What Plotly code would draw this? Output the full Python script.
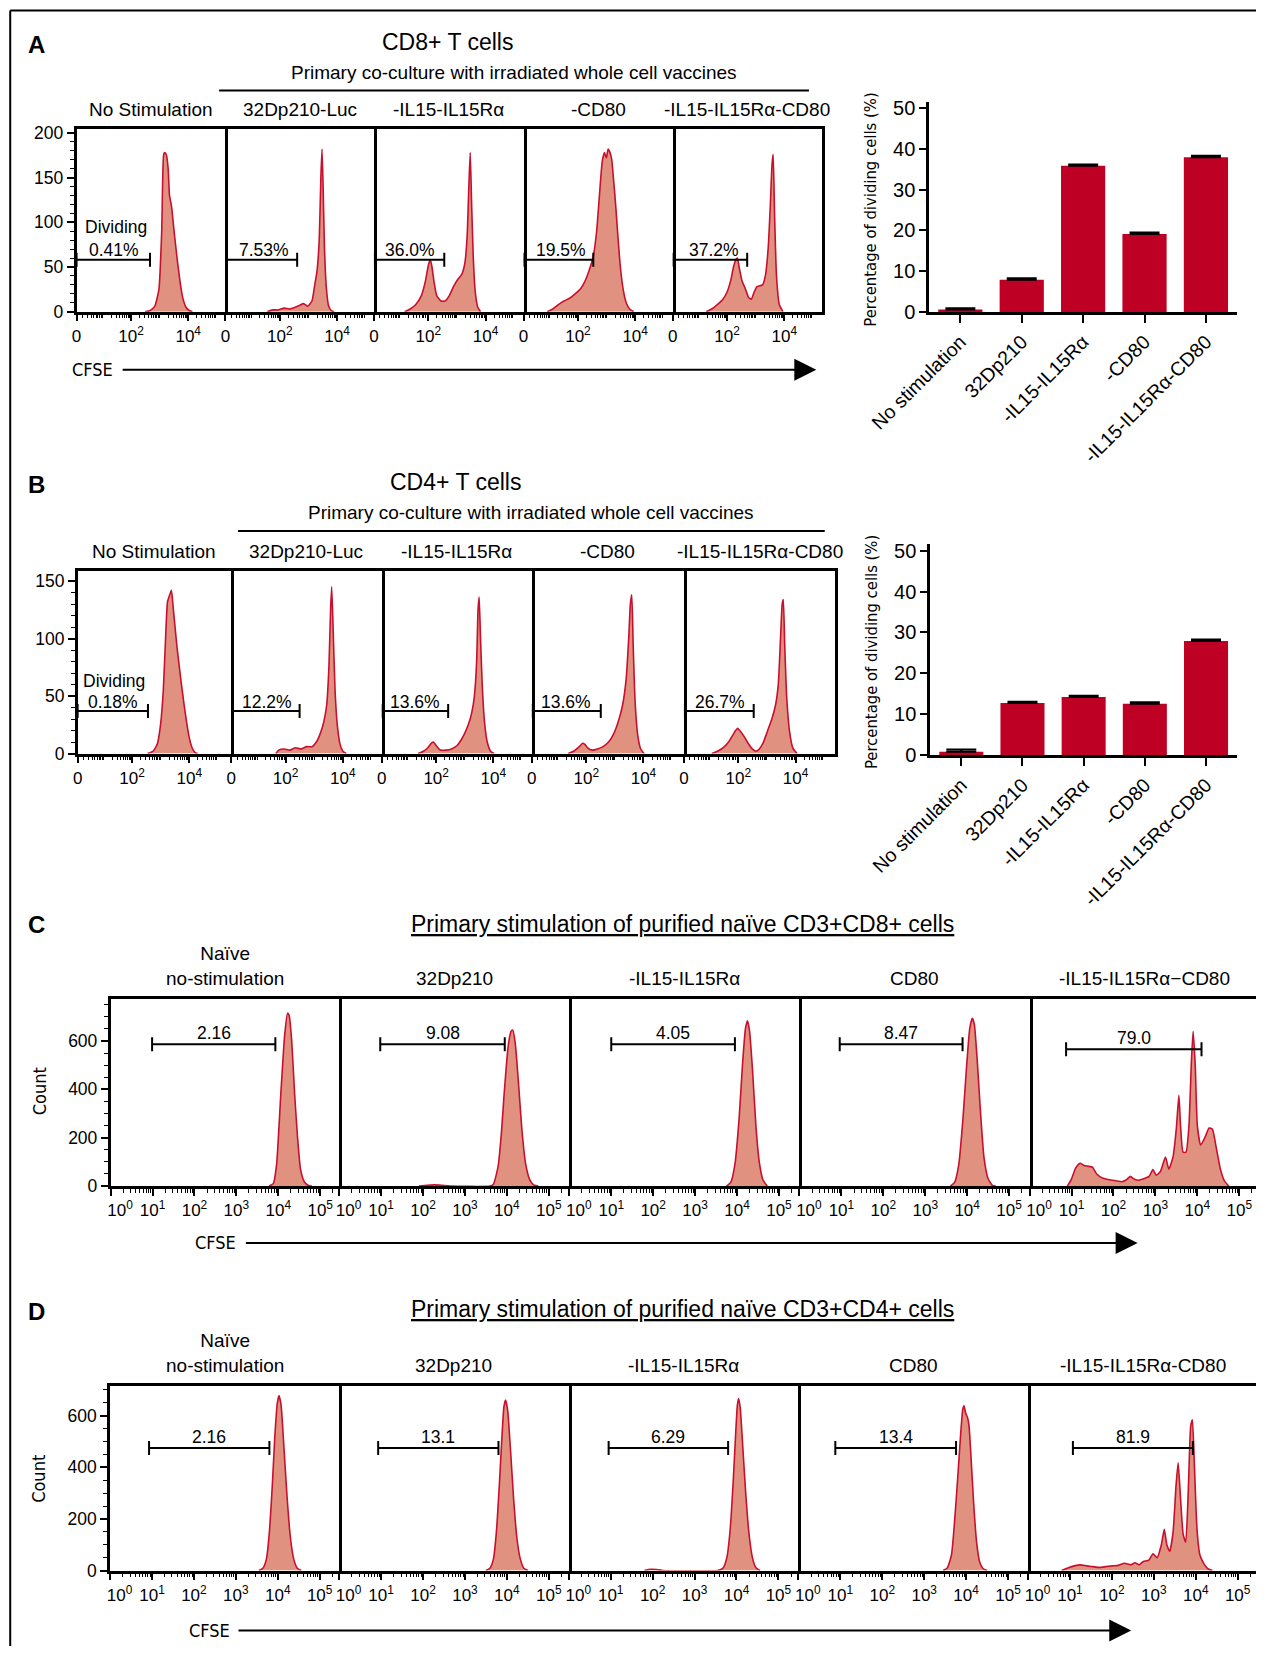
import math
import plotly.graph_objects as go

# ---------------- data ----------------
# A/B histograms: x = CFSE position in decades from the axis origin (biex display), y = count
a_labels = ["No Stimulation", "32Dp210-Luc", "-IL15-IL15Rα", "-CD80", "-IL15-IL15Rα-CD80"]
a1_x = [2.45, 2.62, 2.8, 2.95, 3.05, 3.12, 3.16, 3.22, 3.28, 3.33, 3.4, 3.5, 3.6, 3.7, 3.8, 3.92, 4.05, 4.15]
a1_y = [0, 1, 6, 25, 90, 176, 178, 175, 160, 130, 118, 88, 60, 35, 16, 5, 1, 0]
a2_x = [1.5, 1.7, 1.9, 2.1, 2.3, 2.5, 2.65, 2.8, 2.95, 3.1, 3.2, 3.28, 3.36, 3.42, 3.46, 3.5, 3.55, 3.62, 3.7, 3.8, 3.9]
a2_y = [0, 2, 2, 4, 3, 5, 7, 9, 6, 12, 30, 45, 80, 150, 182, 140, 70, 25, 6, 1, 0]
a3_x = [1.1, 1.3, 1.5, 1.7, 1.85, 1.95, 2.02, 2.08, 2.15, 2.25, 2.4, 2.55, 2.7, 2.85, 3.0, 3.15, 3.26, 3.34, 3.4, 3.45,
        3.5, 3.56, 3.63, 3.72, 3.82]
a3_y = [0, 3, 8, 18, 35, 52, 58, 50, 34, 18, 12, 12, 18, 28, 36, 42, 55, 85, 140, 178, 120, 60, 22, 5, 0]
a4_x = [0.85, 1.05, 1.25, 1.45, 1.65, 1.85, 2.05, 2.2, 2.35, 2.5, 2.62, 2.72, 2.82, 2.9, 2.97, 3.03, 3.1, 3.16, 3.22,
        3.3, 3.38, 3.47, 3.57, 3.68, 3.8, 3.95]
a4_y = [0, 3, 8, 12, 15, 20, 26, 34, 46, 62, 90, 130, 168, 178, 172, 182, 178, 170, 150, 120, 85, 50, 25, 10, 3, 0]
a5_x = [1.2, 1.4, 1.6, 1.8, 1.95, 2.08, 2.18, 2.26, 2.32, 2.38, 2.48, 2.6, 2.72, 2.82, 2.92, 3.02, 3.12, 3.22, 3.32,
        3.42, 3.5, 3.56, 3.6, 3.65, 3.72, 3.82, 3.95]
a5_y = [0, 3, 8, 14, 22, 35, 50, 58, 60, 50, 35, 26, 16, 14, 22, 28, 29, 30, 40, 70, 120, 165, 176, 110, 40, 8, 0]
a_gate_end = [2.63, 2.57, 2.52, 2.5, 2.67]
a_gate_text = ["0.41%", "7.53%", "36.0%", "19.5%", "37.2%"]

b_labels = ["No Stimulation", "32Dp210-Luc", "-IL15-IL15Rα", "-CD80", "-IL15-IL15Rα-CD80"]
b1_x = [2.5, 2.7, 2.85, 2.97, 3.07, 3.15, 3.22, 3.3, 3.36, 3.42, 3.47, 3.55, 3.62, 3.72, 3.8, 3.9, 3.99, 4.1, 4.2, 4.3]
b1_y = [0, 2, 8, 25, 55, 100, 132, 138, 142, 128, 115, 95, 80, 60, 45, 28, 15, 5, 1, 0]
b2_x = [1.6, 1.7, 1.9, 2.1, 2.3, 2.5, 2.7, 2.9, 3.05, 3.2, 3.32, 3.42, 3.5, 3.56, 3.6, 3.65, 3.72, 3.8, 3.9, 4.0, 4.12]
b2_y = [0, 3, 4, 3, 5, 4, 6, 6, 10, 18, 28, 42, 75, 125, 145, 110, 55, 25, 8, 2, 0]
b3_x = [1.3, 1.5, 1.65, 1.78, 1.85, 1.95, 2.1, 2.3, 2.5, 2.7, 2.85, 2.98, 3.1, 3.22, 3.32, 3.4, 3.45, 3.49, 3.54, 3.6,
        3.68, 3.78, 3.9, 4.02]
b3_y = [0, 2, 5, 9, 10, 7, 3, 3, 4, 7, 12, 18, 25, 35, 50, 80, 125, 136, 100, 60, 28, 10, 2, 0]
b4_x = [1.3, 1.5, 1.7, 1.82, 1.9, 2.0, 2.15, 2.35, 2.55, 2.75, 2.95, 3.1, 3.25, 3.38, 3.47, 3.53, 3.58, 3.63, 3.7, 3.8,
        3.9, 4.02]
b4_y = [0, 2, 6, 9, 8, 5, 3, 4, 6, 10, 18, 28, 42, 65, 100, 130, 138, 95, 45, 15, 4, 0]
b5_x = [1.0, 1.2, 1.4, 1.6, 1.75, 1.85, 1.92, 2.0, 2.15, 2.3, 2.45, 2.58, 2.7, 2.85, 3.0, 3.15, 3.28, 3.38, 3.46, 3.52,
        3.56, 3.61, 3.68, 3.78, 3.9, 4.05]
b5_y = [0, 2, 5, 10, 16, 20, 22, 20, 15, 9, 4, 2, 4, 10, 20, 30, 42, 60, 100, 130, 134, 95, 50, 20, 5, 0]
b_gate_end = [2.52, 2.45, 2.38, 2.47, 2.5]
b_gate_text = ["0.18%", "12.2%", "13.6%", "13.6%", "26.7%"]

# bar charts (percentage of dividing cells, mean and SD)
bar_labels = ["No stimulation", "32Dp210", "-IL15-IL15Rα", "-CD80", "-IL15-IL15Rα-CD80"]
cd8_pct = [0.6, 7.9, 35.8, 19.1, 37.9]
cd8_sd = [0.3, 0.35, 0.35, 0.35, 0.4]
cd4_pct = [0.9, 12.8, 14.25, 12.6, 27.9]
cd4_sd = [0.5, 0.3, 0.3, 0.35, 0.4]

# C/D histograms: x = log10(CFSE), y = count
c_labels = ["Naïve<br>no-stimulation", "32Dp210", "-IL15-IL15Rα", "CD80", "-IL15-IL15Rα−CD80"]
c1_x = [3.78, 3.88, 3.96, 4.06, 4.15, 4.22, 4.26, 4.32, 4.39, 4.46, 4.53, 4.62, 4.72, 4.8]
c1_y = [0, 10, 90, 380, 620, 715, 705, 600, 380, 200, 70, 18, 2, 0]
c2_x = [1.9, 2.1, 2.28, 2.45, 2.65, 3.6, 3.68, 3.79, 3.87, 3.93, 4.03, 4.1, 4.14, 4.2, 4.28, 4.36, 4.45, 4.55, 4.65, 4.75]
c2_y = [0, 3, 5, 3, 0, 0, 8, 80, 220, 370, 577, 640, 645, 590, 420, 230, 90, 25, 4, 0]
c3_x = [3.75, 3.85, 3.95, 4.05, 4.13, 4.2, 4.25, 4.3, 4.37, 4.45, 4.53, 4.62, 4.72]
c3_y = [0, 15, 90, 280, 500, 650, 684, 640, 480, 250, 100, 25, 0]
c4_x = [3.6, 3.7, 3.8, 3.9, 3.98, 4.06, 4.12, 4.17, 4.24, 4.32, 4.4, 4.5, 4.6, 4.68]
c4_y = [0, 15, 90, 280, 480, 650, 694, 670, 520, 300, 120, 30, 3, 0]
c5_x = [0.9, 1.0, 1.1, 1.2, 1.3, 1.4, 1.5, 1.6, 1.75, 1.9, 2.05, 2.2, 2.3, 2.4, 2.5, 2.6, 2.72, 2.85, 2.94, 3.02, 3.12,
        3.24, 3.32, 3.42, 3.5, 3.56, 3.6, 3.66, 3.73, 3.8, 3.86, 3.9, 3.95, 4.0, 4.08, 4.18, 4.28, 4.36, 4.45, 4.55,
        4.65, 4.75]
c5_y = [0, 30, 75, 94, 85, 82, 78, 50, 32, 26, 22, 18, 25, 40, 28, 24, 30, 40, 68, 45, 60, 120, 70, 120, 240, 375, 250,
        140, 140, 250, 520, 640, 500, 250, 170, 200, 240, 235, 160, 70, 20, 0]
c_gate_x0 = [0.99, 0.98, 1.0, 0.96, 0.87]
c_gate_x1 = [3.93, 3.95, 3.95, 3.89, 4.1]
c_gate_y = [586, 586, 586, 586, 566]
c_gate_text = ["2.16", "9.08", "4.05", "8.47", "79.0"]

d_labels = ["Naïve<br>no-stimulation", "32Dp210", "-IL15-IL15Rα", "CD80", "-IL15-IL15Rα-CD80"]
d1_x = [3.55, 3.65, 3.73, 3.8, 3.87, 3.93, 3.99, 4.03, 4.08, 4.15, 4.22, 4.3, 4.38, 4.46, 4.56]
d1_y = [0, 10, 45, 150, 330, 520, 650, 678, 640, 470, 290, 130, 45, 10, 0]
d2_x = [3.5, 3.6, 3.68, 3.75, 3.82, 3.88, 3.93, 3.97, 4.02, 4.09, 4.16, 4.24, 4.32, 4.4, 4.5]
d2_y = [0, 10, 45, 150, 330, 510, 635, 661, 620, 460, 280, 125, 45, 10, 0]
d3_x = [1.8, 1.95, 2.1, 2.25, 3.55, 3.68, 3.77, 3.85, 3.92, 3.98, 4.02, 4.05, 4.09, 4.15, 4.22, 4.3, 4.38, 4.46, 4.56]
d3_y = [0, 5, 4, 0, 0, 10, 50, 160, 340, 530, 640, 667, 630, 480, 300, 140, 50, 12, 0]
d4_x = [3.45, 3.55, 3.65, 3.72, 3.8, 3.87, 3.92, 3.95, 3.99, 4.03, 4.07, 4.12, 4.18, 4.25, 4.32, 4.4, 4.5]
d4_y = [0, 10, 60, 180, 360, 530, 625, 639, 610, 595, 560, 430, 260, 110, 35, 8, 0]
d5_x = [0.8, 0.95, 1.1, 1.25, 1.4, 1.55, 1.7, 1.85, 2.0, 2.15, 2.3, 2.45, 2.55, 2.65, 2.75, 2.88, 2.98, 3.08, 3.18,
        3.25, 3.31, 3.38, 3.46, 3.53, 3.58, 3.63, 3.7, 3.76, 3.82, 3.88, 3.92, 3.97, 4.03, 4.1, 4.2, 4.3, 4.4]
d5_y = [0, 10, 18, 22, 18, 15, 12, 15, 18, 20, 28, 22, 30, 22, 35, 40, 65, 50, 100, 160, 100, 75, 150, 330, 418, 300,
        140, 110, 300, 560, 584, 400, 160, 60, 25, 6, 0]
d_gate_x0 = [0.93, 0.93, 0.95, 0.88, 1.07]
d_gate_x1 = [3.8, 3.8, 3.8, 3.76, 3.93]
d_gate_y = [475, 475, 475, 475, 475]
d_gate_text = ["2.16", "13.1", "6.29", "13.4", "81.9"]

# ---------------- styling ----------------
# positions below were sketched on a 1200x1570 grid; the page body adds an 8px margin
FIG_W, FIG_H = 1248, 1638
S = 1264 / 1200.0
X_EDGE = (FIG_W + 8) / S
LINE = "#C8102E"
FILL = "#E1917F"
BAR = "#BE0025"
SANS = "Liberation Sans, Arial, sans-serif"
NARROW = "DejaVu Sans Condensed, Liberation Sans Narrow, Liberation Sans, sans-serif"
NBSP = "\u00a0"


def fx(x):
    return min(1.0, max(0.0, (x * S - 8) / FIG_W))


def fy(y):
    return min(1.0, max(0.0, 1 - (y * S - 8) / FIG_H))


fig = go.Figure()
layout = {}
annotations = []
shapes = []
count = [0]


def new_axes(xdom, ydom, xo, yo):
    count[0] += 1
    s = "" if count[0] == 1 else str(count[0])
    layout["xaxis" + s] = dict(domain=xdom, anchor="y" + s, automargin=False, **xo)
    layout["yaxis" + s] = dict(domain=ydom, anchor="x" + s, automargin=False, **yo)
    return "x" + s, "y" + s


def text(x, y, s, size=18, family=SANS, **kw):
    annotations.append(dict(x=fx(x), y=fy(y), xref="paper", yref="paper", text=s, showarrow=False,
                            xanchor="center", yanchor="middle",
                            font=dict(size=size, family=family, color="black"), **kw))


def data_text(xa, ya, x, y, s, anchor="center", size=17.5):
    annotations.append(dict(x=x, y=y, xref=xa, yref=ya, text=s, showarrow=False, xanchor=anchor,
                            yanchor="middle", font=dict(size=size, family=SANS, color="black")))


def hline(x0, x1, y, w=2):
    shapes.append(dict(type="line", xref="paper", yref="paper", x0=fx(x0), x1=fx(x1), y0=fy(y), y1=fy(y),
                       line=dict(color="black", width=w)))


def arrow(x0, x1, y):
    annotations.append(dict(x=fx(x1), y=fy(y), xref="paper", yref="paper", ax=-(x1 - x0) * S, ay=0,
                            axref="pixel", ayref="pixel", text="", showarrow=True, arrowhead=2,
                            arrowsize=2.2, arrowwidth=2, arrowcolor="black"))


def hist_row(curves, bounds, y_top, y_bot, y_max, y_dtick, y_minor, xticks, xtext, xminor, gates, dec_px):
    out = []
    for k, (xs, ys) in enumerate(curves):
        left, right = bounds[k], min(bounds[k + 1], X_EDGE)
        x_max = (right - left) / dec_px
        xo = dict(range=[0, x_max], showline=True, linecolor="black", linewidth=2.5, mirror=True,
                  ticks="outside", ticklen=7, tickwidth=2, tickcolor="black",
                  tickmode="array", tickvals=xticks, ticktext=xtext,
                  minor=dict(tickmode="array", tickvals=[v for v in xminor if 0.05 < v < x_max - 0.03],
                             ticks="outside", ticklen=4, tickwidth=1.2, tickcolor="black"),
                  showgrid=False, zeroline=False, tickfont=dict(size=17, family=SANS, color="black"))
        yo = dict(range=[0, y_max], showline=True, linecolor="black", linewidth=2.5,
                  showgrid=False, zeroline=False)
        if k == 0:
            yo.update(mirror=True, ticks="outside", ticklen=7, tickwidth=2, tickcolor="black", tick0=0,
                      dtick=y_dtick,
                      minor=dict(tick0=0, dtick=y_minor, ticks="outside", ticklen=4, tickwidth=1.2,
                                 tickcolor="black"),
                      tickfont=dict(size=17.5, family=SANS, color="black"))
        else:
            # only the right edge, the left edge is the previous panel's right edge
            yo.update(side="right", showticklabels=False, ticks="")
        xa, ya = new_axes([fx(left), fx(right)], [fy(y_bot), fy(y_top)], xo, yo)
        fig.add_trace(go.Scatter(x=xs, y=ys, xaxis=xa, yaxis=ya, mode="lines",
                                 line=dict(color=LINE, width=1.6, shape="spline", smoothing=0.5),
                                 fill="tozeroy", fillcolor=FILL, hoverinfo="skip"))
        g = gates[k]
        fig.add_trace(go.Scatter(x=[g[0], g[1]], y=[g[2], g[2]], xaxis=xa, yaxis=ya, mode="lines+markers",
                                 line=dict(color="black", width=2),
                                 marker=dict(symbol="line-ns", size=10, line=dict(width=2, color="black")),
                                 hoverinfo="skip"))
        out.append((xa, ya))
    return out


def bar_panel(vals, sds, x0, x1, y_top, y_bot, y_max):
    xo = dict(type="category", categoryorder="array", categoryarray=bar_labels, range=[-0.51, 4.5],
              showline=True, linecolor="black", linewidth=2.5, ticks="outside", ticklen=8, tickwidth=2,
              tickcolor="black", tickangle=-45, tickfont=dict(size=19.5, family=SANS, color="black"),
              showgrid=False, zeroline=False)
    yo = dict(range=[0, y_max], tick0=0, dtick=10, showline=True, linecolor="black", linewidth=2.5,
              ticks="outside", ticklen=7, tickwidth=2, tickcolor="black", showgrid=False, zeroline=False,
              tickfont=dict(size=20, family=SANS, color="black"))
    xa, ya = new_axes([fx(x0), fx(x1)], [fy(y_bot), fy(y_top)], xo, yo)
    fig.add_trace(go.Bar(x=bar_labels, y=vals, xaxis=xa, yaxis=ya, width=0.72, marker_color=BAR,
                         marker_line_width=0,
                         error_y=dict(type="data", array=sds, arrayminus=[0] * len(sds), color="black",
                                      thickness=2, width=15), hoverinfo="skip"))


# biex tick positions for A/B (decade units from the axis origin)
ab_ticks = [0, 1.95, 4.0]
ab_text = ["0", "10<sup>2</sup>", "10<sup>4</sup>"]
ab_minor = [1.95 + (d + math.log10(m) - 2) * 1.025
            for d in range(0, 5) for m in range(1, 10) if not (d in (2, 4) and m == 1)]

# ---- panel A ----
a_bounds = [72.7, 214, 355, 497, 638.6, 780]
a_curves = [(a1_x, a1_y), (a2_x, a2_y), (a3_x, a3_y), (a4_x, a4_y), (a5_x, a5_y)]
a_axes = hist_row(a_curves, a_bounds, 122.8, 295.9, 204, 50, 10, ab_ticks, ab_text, ab_minor,
                  [(0, e, 58) for e in a_gate_end], 26.5)
a_text_x = [0.37, 0.42, 0.31, 0.37, 0.5]
for k, (xa, ya) in enumerate(a_axes):
    data_text(xa, ya, a_text_x[k], 69, a_gate_text[k], "left")
data_text(a_axes[0][0], a_axes[0][1], 0.22, 95, "Dividing", "left")
for k, lab in enumerate(a_labels):
    text((a_bounds[k] + a_bounds[k + 1]) / 2, 104, lab, 19)
text(35, 42, "<b>A</b>", 24)
text(425, 40, "CD8+ T cells", 23)
text(488, 69, "Primary co-culture with irradiated whole cell vaccines", 19)
hline(208, 768, 86)
text(88, 351, "CFSE", 18, NARROW)
arrow(115, 775, 351)
bar_panel(cd8_pct, cd8_sd, 882, 1174, 96.6, 296.2, 51.5)
text(827, 199, "Percentage of dividing cells (%)", 16.5, NARROW, textangle=-90)

# ---- panel B ----
b_bounds = [73.7, 219.5, 362.4, 504.9, 649.3, 793]
b_curves = [(b1_x, b1_y), (b2_x, b2_y), (b3_x, b3_y), (b4_x, b4_y), (b5_x, b5_y)]
b_axes = hist_row(b_curves, b_bounds, 541.8, 715.4, 159, 50, 10, ab_ticks, ab_text, ab_minor,
                  [(0, e, 37) for e in b_gate_end], 26.5)
b_text_x = [0.29, 0.31, 0.22, 0.27, 0.31]
for k, (xa, ya) in enumerate(b_axes):
    data_text(xa, ya, b_text_x[k], 45, b_gate_text[k], "left")
data_text(b_axes[0][0], b_axes[0][1], 0.11, 63, "Dividing", "left")
for k, lab in enumerate(b_labels):
    text((b_bounds[k] + b_bounds[k + 1]) / 2, 524, lab, 19)
text(35, 460, "<b>B</b>", 24)
text(432, 458, "CD4+ T cells", 23)
text(504, 487, "Primary co-culture with irradiated whole cell vaccines", 19)
hline(226, 783, 504)
bar_panel(cd4_pct, cd4_sd, 883, 1174, 516.5, 717.1, 51.6)
text(827, 619, "Percentage of dividing cells (%)", 16.5, NARROW, textangle=-90)

# ---- panels C and D (log CFSE) ----
cd_ticks = [0, 1, 2, 3, 4, 5]
cd_text = [NBSP * 4 + "10<sup>0</sup>", "10<sup>1</sup>", "10<sup>2</sup>", "10<sup>3</sup>", "10<sup>4</sup>",
           "10<sup>5</sup>"]
cd_minor = [d + math.log10(m) for d in range(0, 6) for m in range(2, 10)]

c_bounds = [105, 322, 540.5, 759, 977.5, 1195]
c_curves = [(c1_x, c1_y), (c2_x, c2_y), (c3_x, c3_y), (c4_x, c4_y), (c5_x, c5_y)]
c_axes = hist_row(c_curves, c_bounds, 948.8, 1126, 772, 200, 50, cd_ticks, cd_text, cd_minor,
                  list(zip(c_gate_x0, c_gate_x1, c_gate_y)), 39.8)
for k, (xa, ya) in enumerate(c_axes):
    data_text(xa, ya, (c_gate_x0[k] + c_gate_x1[k]) / 2, c_gate_y[k] + 45, c_gate_text[k])
for k, lab in enumerate(c_labels):
    text((c_bounds[k] + c_bounds[k + 1]) / 2, 929 if k else 917.5, lab, 19)
text(35, 878, "<b>C</b>", 24)
text(648, 877, "Primary stimulation of purified naïve CD3+CD8+ cells", 23)
annotations[-1]["font"]["lineposition"] = "under"
text(37, 1036, "Count", 18, NARROW, textangle=-90)
text(205, 1180, "CFSE", 18, NARROW)
arrow(232, 1080, 1180)

d_bounds = [104.5, 322, 540, 758, 976, 1193.5]
d_curves = [(d1_x, d1_y), (d2_x, d2_y), (d3_x, d3_y), (d4_x, d4_y), (d5_x, d5_y)]
d_axes = hist_row(d_curves, d_bounds, 1315.9, 1491, 715, 200, 50, cd_ticks, cd_text, cd_minor,
                  list(zip(d_gate_x0, d_gate_x1, d_gate_y)), 39.8)
for k, (xa, ya) in enumerate(d_axes):
    data_text(xa, ya, (d_gate_x0[k] + d_gate_x1[k]) / 2, d_gate_y[k] + 42, d_gate_text[k])
for k, lab in enumerate(d_labels):
    text((d_bounds[k] + d_bounds[k + 1]) / 2, 1296 if k else 1284.5, lab, 19)
text(35, 1245, "<b>D</b>", 24)
text(648, 1243, "Primary stimulation of purified naïve CD3+CD4+ cells", 23)
annotations[-1]["font"]["lineposition"] = "under"
text(37, 1404, "Count", 18, NARROW, textangle=-90)
text(199, 1548, "CFSE", 18, NARROW)
arrow(225, 1074, 1548)

# outer frame of the figure
shapes.append(dict(type="line", xref="paper", yref="paper", x0=fx(9.7), x1=fx(9.7), y0=fy(10), y1=0,
                   line=dict(color="black", width=2)))
shapes.append(dict(type="line", xref="paper", yref="paper", x0=fx(9.7), x1=1, y0=fy(10), y1=fy(10),
                   line=dict(color="black", width=2)))

fig.update_layout(template="none", width=FIG_W, height=FIG_H,
                  margin=dict(l=0, r=0, t=0, b=0, pad=0, autoexpand=False), showlegend=False,
                  paper_bgcolor="white", plot_bgcolor="white", annotations=annotations, shapes=shapes,
                  font=dict(family=SANS, color="black"), **layout)
fig.write_html("out.html")
